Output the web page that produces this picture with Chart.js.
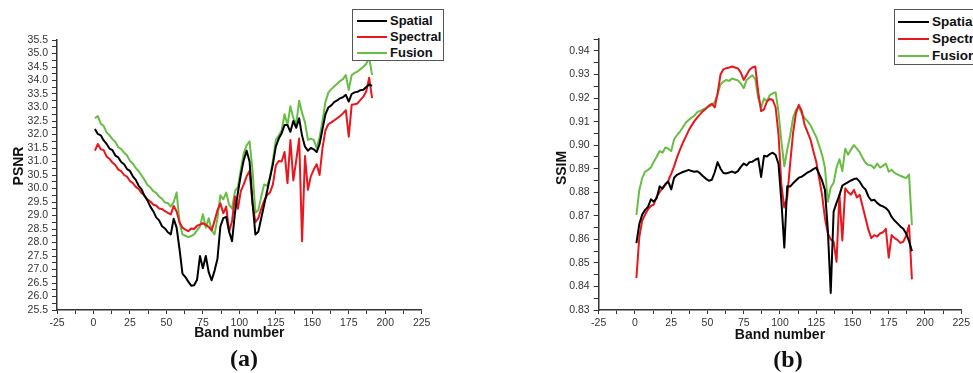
<!DOCTYPE html>
<html>
<head>
<meta charset="utf-8">
<title>PSNR / SSIM per band</title>
<script src="https://cdn.jsdelivr.net/npm/chart.js@4.4.1/dist/chart.umd.min.js"></script>
<style>
  body { margin: 0; width: 973px; height: 373px; overflow: hidden; background: #fff; position: relative;
         font-family: 'Liberation Sans', Arial, sans-serif; }
  canvas { position: absolute; top: 0; }
  .legend { position: absolute; border: 1px solid #555; background: #fff; box-sizing: border-box; z-index: 2; }
  .legend .row { position: absolute; left: 0; height: 16px; white-space: nowrap; font-weight: bold; color: #111; }
  .legend .swatch { position: absolute; top: 7px; height: 0; border-top: 2.5px solid; }
  .legend .label { position: absolute; top: 0; line-height: 16px; }
  .ytitle { position: absolute; font-weight: bold; font-size: 14px; color: #111; transform: rotate(-90deg);
            width: 80px; text-align: center; line-height: 16px; }
  .caption { position: absolute; width: 100px; text-align: center; font-family: 'Liberation Serif', 'Times New Roman', serif;
             font-weight: bold; font-size: 24px; line-height: 26px; color: #111; }
</style>
</head>
<body>

<canvas id="psnrChart" width="486" height="373" style="left:0"></canvas>
<canvas id="ssimChart" width="487" height="373" style="left:486px"></canvas>

<div class="ytitle" style="left:-22px; top:158px;">PSNR</div>
<div class="ytitle" style="left:521px; top:160px;">SSIM</div>

<div class="legend" id="legendA" style="left:352px; top:9px; width:92px; height:52px;"></div>
<div class="legend" id="legendB" style="left:894px; top:9px; width:100px; height:56px;"></div>

<div class="caption" style="left:194px; top:345px;">(a)</div>
<div class="caption" style="left:738px; top:346px;">(b)</div>

<script>
// band index (every other band)
const bands = [
  1, 3, 5, 7, 9, 11, 13, 15, 17, 19,
  21, 23, 25, 27, 29, 31, 33, 35, 37, 39,
  41, 43, 45, 47, 49, 51, 53, 55, 57, 59,
  61, 63, 65, 67, 69, 71, 73, 75, 77, 79,
  81, 83, 85, 87, 89, 91, 93, 95, 97, 99,
  101, 103, 105, 107, 109, 111, 113, 115, 117, 119,
  121, 123, 125, 127, 129, 131, 133, 135, 137, 139,
  141, 143, 145, 147, 149, 151, 153, 155, 157, 159,
  161, 163, 165, 167, 169, 171, 173, 175, 177, 179,
  181, 183, 185, 187, 189, 191
];

// PSNR per band
const psnrSpatial = [
  32.20, 32.02, 31.97, 31.78, 31.65, 31.48, 31.42, 31.22, 31.15, 30.98,
  30.90, 30.72, 30.65, 30.45, 30.32, 30.10, 29.97, 29.72, 29.56, 29.33,
  29.16, 28.93, 28.82, 28.60, 28.52, 28.38, 28.30, 28.88, 28.55, 27.75,
  26.85, 26.72, 26.55, 26.40, 26.42, 26.62, 27.50, 27.05, 27.50, 26.90,
  26.60, 26.95, 27.40, 28.60, 28.90, 28.95, 28.40, 28.05, 29.10, 29.85,
  30.50, 31.05, 31.40, 31.00, 29.50, 28.30, 28.40, 28.90, 29.40, 29.90,
  30.40, 30.90, 31.55, 31.85, 32.05, 32.35, 32.35, 32.10, 32.50, 32.25,
  32.60, 31.95, 31.55, 31.40, 31.50, 31.45, 31.35, 31.65, 32.20, 32.75,
  33.00, 33.08, 33.20, 33.26, 33.34, 33.38, 33.47, 33.22, 33.50, 33.56,
  33.58, 33.64, 33.66, 33.76, 33.85, 33.80
];
const psnrSpectral = [
  31.40, 31.65, 31.45, 31.42, 31.18, 31.10, 30.96, 30.87, 30.70, 30.64,
  30.50, 30.44, 30.28, 30.20, 30.06, 29.98, 29.83, 29.74, 29.60, 29.52,
  29.40, 29.37, 29.26, 29.24, 29.16, 29.10, 29.04, 29.35, 29.15, 28.75,
  28.55, 28.48, 28.42, 28.52, 28.50, 28.62, 28.66, 28.72, 28.65, 28.58,
  28.45, 28.80, 29.20, 29.45, 29.08, 29.33, 28.40, 28.80, 29.70, 29.25,
  29.90, 30.15, 30.45, 30.65, 29.45, 28.75, 28.90, 29.25, 29.55, 29.75,
  29.85, 30.15, 30.85, 31.02, 31.00, 31.35, 30.20, 31.80, 30.30, 31.05,
  31.85, 28.05, 31.20, 29.95, 30.45, 30.70, 30.90, 30.50, 31.50, 32.15,
  32.38, 32.45, 32.52, 32.60, 32.68, 32.78, 32.90, 31.92, 33.10, 33.12,
  33.15, 33.28, 33.40, 33.60, 34.10, 33.35
];
const psnrFusion = [
  32.60, 32.68, 32.40, 32.32, 32.08, 31.97, 31.83, 31.72, 31.53, 31.46,
  31.33, 31.22, 31.03, 30.92, 30.76, 30.64, 30.48, 30.32, 30.13, 30.04,
  29.90, 29.84, 29.70, 29.62, 29.48, 29.46, 29.33, 29.50, 29.85, 28.75,
  28.30, 28.25, 28.20, 28.24, 28.30, 28.45, 28.60, 29.05, 28.55, 28.90,
  28.45, 28.30, 28.90, 29.75, 29.60, 29.85, 29.40, 29.25, 29.90, 30.05,
  30.70, 31.30, 31.60, 31.75, 30.70, 29.10, 29.20, 29.70, 30.15, 30.10,
  30.40, 31.05, 31.80, 31.96, 32.15, 32.75, 32.35, 33.05, 32.60, 32.40,
  33.25, 32.80, 32.45, 31.80, 31.85, 31.80, 31.50, 31.90, 32.50, 33.20,
  33.55, 33.68, 33.78, 33.88, 33.98, 34.05, 34.20, 33.65, 34.20, 34.28,
  34.33, 34.42, 34.50, 34.62, 34.85, 34.20
];

// SSIM per band
const ssimSpatial = [
  0.8584, 0.8665, 0.8705, 0.8725, 0.8738, 0.8770, 0.8760, 0.8775, 0.8825, 0.8815,
  0.8835, 0.8845, 0.8812, 0.8862, 0.8874, 0.8880, 0.8886, 0.8890, 0.8895, 0.8890,
  0.8887, 0.8889, 0.8880, 0.8868, 0.8857, 0.8849, 0.8853, 0.8885, 0.8928, 0.8900,
  0.8882, 0.8880, 0.8884, 0.8888, 0.8882, 0.8890, 0.8908, 0.8922, 0.8914, 0.8928,
  0.8930, 0.8938, 0.8944, 0.8865, 0.8955, 0.8952, 0.8962, 0.8968, 0.8958, 0.8920,
  0.8760, 0.8565, 0.8826, 0.8824, 0.8838, 0.8850, 0.8862, 0.8866, 0.8875, 0.8884,
  0.8890, 0.8898, 0.8905, 0.8878, 0.8850, 0.8810, 0.8640, 0.8372, 0.8718, 0.8755,
  0.8788, 0.8828, 0.8836, 0.8843, 0.8850, 0.8856, 0.8858, 0.8845, 0.8824, 0.8812,
  0.8782, 0.8765, 0.8768, 0.8755, 0.8745, 0.8740, 0.8733, 0.8720, 0.8695, 0.8680,
  0.8668, 0.8655, 0.8645, 0.8625, 0.8592, 0.8550
];
const ssimSpectral = [
  0.8436, 0.8610, 0.8680, 0.8705, 0.8728, 0.8742, 0.8748, 0.8782, 0.8800, 0.8818,
  0.8832, 0.8850, 0.8878, 0.8910, 0.8948, 0.8980, 0.9010, 0.9035, 0.9062, 0.9083,
  0.9102, 0.9118, 0.9132, 0.9145, 0.9155, 0.9168, 0.9176, 0.9160, 0.9220, 0.9300,
  0.9322, 0.9327, 0.9330, 0.9334, 0.9330, 0.9326, 0.9308, 0.9277, 0.9298, 0.9320,
  0.9330, 0.9334, 0.9225, 0.9145, 0.9152, 0.9185, 0.9196, 0.9192, 0.9160, 0.9045,
  0.8830, 0.8735, 0.8780, 0.8920, 0.9050, 0.9135, 0.9171, 0.9145, 0.9086, 0.9055,
  0.9025, 0.8975, 0.8930, 0.8860, 0.8790, 0.8690, 0.8625, 0.8600, 0.8590, 0.8505,
  0.8790, 0.8595, 0.8817, 0.8800, 0.8790, 0.8810, 0.8778, 0.8789, 0.8740, 0.8690,
  0.8640, 0.8605, 0.8618, 0.8612, 0.8625, 0.8630, 0.8645, 0.8522, 0.8618, 0.8605,
  0.8598, 0.8585, 0.8590, 0.8615, 0.8660, 0.8430
];
const ssimFusion = [
  0.8704, 0.8810, 0.8860, 0.8888, 0.8895, 0.8905, 0.8930, 0.8951, 0.8975, 0.8968,
  0.8990, 0.8985, 0.8975, 0.9025, 0.9043, 0.9057, 0.9075, 0.9095, 0.9107, 0.9117,
  0.9125, 0.9140, 0.9146, 0.9152, 0.9158, 0.9164, 0.9170, 0.9183, 0.9218, 0.9258,
  0.9270, 0.9277, 0.9273, 0.9283, 0.9279, 0.9275, 0.9262, 0.9242, 0.9277, 0.9287,
  0.9297, 0.9280, 0.9200, 0.9160, 0.9198, 0.9186, 0.9213, 0.9220, 0.9225, 0.9140,
  0.9015, 0.8910, 0.8980, 0.9040, 0.9115, 0.9150, 0.9164, 0.9134, 0.9114, 0.9102,
  0.9085, 0.9060, 0.9035, 0.8998, 0.8960, 0.8905, 0.8760, 0.8820, 0.8840, 0.8905,
  0.8940, 0.8890, 0.8985, 0.8960, 0.8982, 0.9000, 0.8985, 0.8970, 0.8945, 0.8925,
  0.8916, 0.8914, 0.8902, 0.8922, 0.8905, 0.8912, 0.8922, 0.8888, 0.8895, 0.8882,
  0.8876, 0.8870, 0.8865, 0.8860, 0.8875, 0.8660
];

const seriesNames = ['Spatial', 'Spectral', 'Fusion'];
const seriesColors = ['#000000', '#e8161d', '#68bd45'];

const axisColor = '#333';
const tickFont = { family: "'Liberation Sans', Arial, sans-serif", size: 10.5 };
const titleFont = { family: "'Liberation Sans', Arial, sans-serif", size: 14, weight: 'bold' };

function toPoints(values) {
  return bands.map((b, i) => ({ x: b, y: values[i] }));
}

function makeDatasets(series) {
  return series.map((values, i) => ({
    label: seriesNames[i],
    data: toPoints(values),
    borderColor: seriesColors[i],
    borderWidth: 2,
    borderJoinStyle: 'round',
    pointRadius: 0,
    tension: 0,
    fill: false
  }));
}

function isStep(v, step) {
  const k = v / step;
  return Math.abs(k - Math.round(k)) < 1e-6;
}

function makeOptions(p) {
  return {
    responsive: false,
    animation: false,
    devicePixelRatio: 1,
    layout: { padding: { left: 0, top: p.top, right: p.right, bottom: 0 } },
    plugins: { legend: { display: false }, tooltip: { enabled: false } },
    scales: {
      x: {
        type: 'linear',
        min: -25,
        max: 225,
        afterFit: (s) => { s.height = 63; },
        ticks: {
          stepSize: 12.5, autoSkip: false, maxRotation: 0, padding: 3,
          font: tickFont, color: axisColor,
          callback: (v) => isStep(v, 25) ? String(v) : ''
        },
        grid: { drawOnChartArea: false, tickLength: 4, tickColor: axisColor, tickWidth: 1 },
        border: { color: axisColor, width: 1.5 },
        title: { display: true, text: 'Band number', font: titleFont, color: '#111',
                 padding: { top: 0, bottom: p.xTitleBottom } }
      },
      y: {
        min: p.yMin,
        max: p.yMax,
        afterFit: (s) => { s.width = p.yWidth; },
        ticks: {
          stepSize: p.yMinor, autoSkip: false, padding: 4,
          font: tickFont, color: axisColor,
          callback: (v) => isStep(v, p.yMajor) ? v.toFixed(p.digits) : ''
        },
        grid: { drawOnChartArea: false, tickLength: 5, tickColor: axisColor, tickWidth: 1 },
        border: { color: axisColor, width: 1.5 }
      }
    }
  };
}

new Chart(document.getElementById('psnrChart'), {
  type: 'line',
  data: { datasets: makeDatasets([psnrSpatial, psnrSpectral, psnrFusion]) },
  options: makeOptions({
    top: 40, right: 64.3, yWidth: 57, xTitleBottom: 31.6,
    yMin: 25.5, yMax: 35.5, yMinor: 0.25, yMajor: 0.5, digits: 1
  })
});

new Chart(document.getElementById('ssimChart'), {
  type: 'line',
  data: { datasets: makeDatasets([ssimSpatial, ssimSpectral, ssimFusion]) },
  options: makeOptions({
    top: 39.2, right: 10.3, yWidth: 112.7, xTitleBottom: 29.6,
    yMin: 0.83, yMax: 0.945, yMinor: 0.005, yMajor: 0.01, digits: 2
  })
});

// legend boxes
function buildLegend(el, o) {
  seriesNames.forEach((name, i) => {
    const row = document.createElement('div');
    row.className = 'row';
    row.style.top = (o.firstRow + i * o.rowGap) + 'px';
    row.style.fontSize = o.fontSize + 'px';
    const sw = document.createElement('div');
    sw.className = 'swatch';
    sw.style.left = o.swLeft + 'px';
    sw.style.width = o.swWidth + 'px';
    sw.style.borderTopColor = seriesColors[i];
    const lb = document.createElement('div');
    lb.className = 'label';
    lb.style.left = o.textLeft + 'px';
    lb.textContent = name;
    row.appendChild(sw);
    row.appendChild(lb);
    el.appendChild(row);
  });
}
buildLegend(document.getElementById('legendA'), { firstRow: 3, rowGap: 16, fontSize: 13, swLeft: 4, swWidth: 30, textLeft: 37 });
buildLegend(document.getElementById('legendB'), { firstRow: 3.5, rowGap: 17, fontSize: 13.5, swLeft: 3, swWidth: 31, textLeft: 37 });
</script>
</body>
</html>
